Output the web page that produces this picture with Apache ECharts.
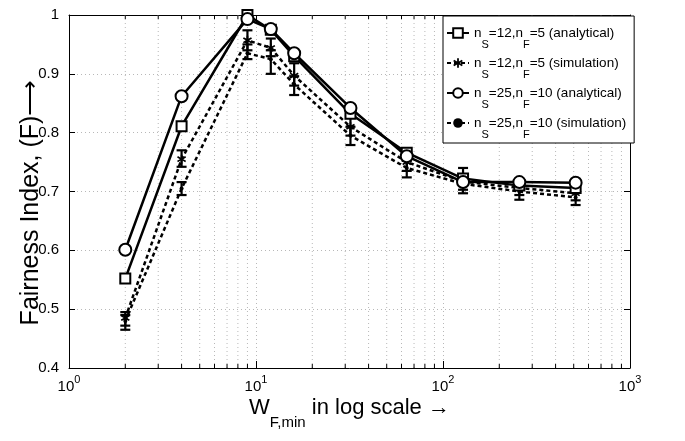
<!DOCTYPE html>
<html><head><meta charset="utf-8">
<script src="https://cdn.jsdelivr.net/npm/echarts@6/dist/echarts.min.js"></script>
<style>html,body{margin:0;padding:0;background:#fff}#c{width:685px;height:441px}</style>
</head><body><div id="c"></div>
<script>
const xVals = [2, 4, 9, 12, 16, 32, 64, 128, 256, 512];
const ana12 = [0.552, 0.811, 1.0, 0.975, 0.93, 0.832, 0.766, 0.722, 0.71, 0.706];
const ana25 = [0.601, 0.862, 0.993, 0.976, 0.935, 0.842, 0.76, 0.716, 0.716, 0.715];
const sim12 = [0.485, 0.755, 0.957, 0.944, 0.897, 0.81, 0.75, 0.717, 0.706, 0.697];
const sim12Lo = [0.472, 0.742, 0.94, 0.93, 0.88, 0.795, 0.735, 0.703, 0.694, 0.685];
const sim12Hi = [0.495, 0.77, 0.974, 0.96, 0.918, 0.825, 0.762, 0.74, 0.716, 0.708];
const sim25 = [0.48, 0.705, 0.935, 0.925, 0.882, 0.795, 0.74, 0.713, 0.70, 0.69];
const sim25Lo = [0.465, 0.694, 0.925, 0.90, 0.864, 0.779, 0.724, 0.697, 0.686, 0.677];
const sim25Hi = [0.49, 0.716, 0.95, 0.94, 0.896, 0.81, 0.752, 0.727, 0.71, 0.70];
const minorX = [2,3,4,5,6,7,8,9,20,30,40,50,60,70,80,90,200,300,400,500,600,700,800,900];
const yMin = 0.4, yMax = 1.0, yStep = 0.1;
const xMin = 1, xMax = 1000;
const legendNames = ['a12', 's12', 'a25', 's25'];
const legendLabels = {
  a12: ['12', '5', 'analytical'],
  s12: ['12', '5', 'simulation'],
  a25: ['25', '10', 'analytical'],
  s25: ['25', '10', 'simulation']
};

const FONT = "'Liberation Sans', Arial, sans-serif";
const asterisk = 'path://M-0.9,-5L0.9,-5L0.9,-1.6L3.9,-3.4L4.8,-1.8L1.8,0L4.8,1.8L3.9,3.4L0.9,1.6L0.9,5L-0.9,5L-0.9,1.6L-3.9,3.4L-4.8,1.8L-1.8,0L-4.8,-1.8L-3.9,-3.4L-0.9,-1.6Z';

function pairs(ys) { return xVals.map((x, i) => [x, ys[i]]); }
function bars(lo, hi) { return xVals.map((x, i) => [x, lo[i], hi[i]]); }

function errRender(params, api) {
  const x = api.value(0);
  const p1 = api.coord([x, api.value(1)]);
  const p2 = api.coord([x, api.value(2)]);
  const w = 5;
  const st = { stroke: '#000', lineWidth: 2.2 };
  return { type: 'group', children: [
    { type: 'line', shape: { x1: p1[0], y1: p1[1], x2: p2[0], y2: p2[1] }, style: st },
    { type: 'line', shape: { x1: p1[0]-w, y1: p1[1], x2: p1[0]+w, y2: p1[1] }, style: st },
    { type: 'line', shape: { x1: p2[0]-w, y1: p2[1], x2: p2[0]+w, y2: p2[1] }, style: st }
  ]};
}
function minorRender(params, api) {
  const v = api.value(0);
  const b = api.coord([v, yMin]);
  const t = api.coord([v, yMax]);
  return { type: 'group', children: [
    { type: 'line', shape: { x1: b[0], y1: b[1], x2: t[0], y2: t[1] },
      style: { stroke: '#b8b8b8', lineWidth: 1, lineDash: [1, 3] } },
    { type: 'line', shape: { x1: b[0], y1: b[1], x2: b[0], y2: b[1]-4 }, style: { stroke: '#000', lineWidth: 1 } },
    { type: 'line', shape: { x1: t[0], y1: t[1], x2: t[0], y2: t[1]+4 }, style: { stroke: '#000', lineWidth: 1 } }
  ]};
}

const chart = echarts.init(document.getElementById('c'));
const axisLine = { show: true, lineStyle: { color: '#000', width: 1 } };
const option = {
  backgroundColor: '#fff',
  animation: false,
  textStyle: { fontFamily: FONT },
  grid: { left: 69, right: 55, top: 15, bottom: 73, containLabel: false },
  legend: {
    data: legendNames,
    orient: 'vertical',
    left: 443, top: 16,
    padding: [10, 8, 3, 3],
    itemGap: 6,
    itemWidth: 22, itemHeight: 12,
    backgroundColor: '#fff',
    borderColor: '#000', borderWidth: 1,
    formatter: n => {
      const l = legendLabels[n];
      return '{m|n}{s|S}{m|=' + l[0] + ',n}{s|F}{m|=' + l[1] + ' (' + l[2] + ')}';
    },
    textStyle: {
      fontFamily: FONT,
      rich: {
        m: { fontSize: 13.5, lineHeight: 34, verticalAlign: 'middle', color: '#000', fontFamily: FONT },
        s: { fontSize: 11, lineHeight: 10, verticalAlign: 'bottom', color: '#000', fontFamily: FONT }
      }
    }
  },
  xAxis: [{
    type: 'log', logBase: 10, min: xMin, max: xMax,
    axisLine,
    axisTick: { show: true, inside: true, length: 7, lineStyle: { color: '#000' } },
    splitLine: { show: true, lineStyle: { color: '#b8b8b8', type: [1, 3], width: 1 } },
    axisLabel: {
      margin: 6,
      formatter: v => '{b|10}{p|' + Math.round(Math.log10(v)) + '}',
      rich: {
        b: { fontSize: 15, lineHeight: 26, verticalAlign: 'middle', color: '#000', fontFamily: FONT },
        p: { fontSize: 11, lineHeight: 11, verticalAlign: 'top', color: '#000', fontFamily: FONT }
      }
    },
    name: '{w|W}{sub|F,min}{w| in log scale →}',
    nameLocation: 'middle', nameGap: 18, nameMoveOverlap: false,
    nameTextStyle: {
      rich: {
        w: { fontSize: 22, lineHeight: 44, verticalAlign: 'middle', color: '#000', fontFamily: FONT },
        sub: { fontSize: 15, lineHeight: 12, verticalAlign: 'bottom', color: '#000', fontFamily: FONT }
      }
    }
  }, {
    type: 'log', logBase: 10, min: xMin, max: xMax, position: 'top',
    axisLine, axisLabel: { show: false }, splitLine: { show: false },
    axisTick: { show: true, inside: true, length: 7, lineStyle: { color: '#000' } }
  }],
  yAxis: [{
    type: 'value', min: yMin, max: yMax, interval: yStep,
    axisLine,
    axisTick: { show: true, inside: true, length: 6, lineStyle: { color: '#000' } },
    splitLine: { show: true, lineStyle: { color: '#b8b8b8', type: [1, 3], width: 1 } },
    axisLabel: { margin: 10, fontSize: 15, color: '#000', fontFamily: FONT },
    name: 'Fairness Index, (F)⟶',
    nameLocation: 'middle', nameGap: 25, nameRotate: 90, nameMoveOverlap: false,
    nameTextStyle: { fontSize: 25, color: '#000', fontFamily: FONT, padding: [0, 22, 0, 0] }
  }, {
    type: 'value', min: yMin, max: yMax, interval: yStep, position: 'right',
    axisLine, axisLabel: { show: false }, splitLine: { show: false },
    axisTick: { show: true, inside: true, length: 6, lineStyle: { color: '#000' } }
  }],
  series: [
    { type: 'custom', name: 'minor', silent: true, renderItem: minorRender, data: minorX.map(v => [v, yMin]), z: 1, clip: false },
    { type: 'custom', name: 'e25', silent: true, renderItem: errRender, data: bars(sim25Lo, sim25Hi), z: 3, clip: false },
    { type: 'custom', name: 'e12', silent: true, renderItem: errRender, data: bars(sim12Lo, sim12Hi), z: 3, clip: false },
    { type: 'line', name: 's25', data: pairs(sim25), clip: false, z: 4,
      lineStyle: { color: '#000', width: 2.5, type: [4, 3] },
      symbol: 'circle', symbolSize: 4, itemStyle: { color: '#000', borderColor: '#000', borderWidth: 0 } },
    { type: 'line', name: 's12', data: pairs(sim12), clip: false, z: 4,
      lineStyle: { color: '#000', width: 2.5, type: [4, 3] },
      symbol: asterisk, symbolSize: 9, itemStyle: { color: '#000', borderWidth: 0 } },
    { type: 'line', name: 'a12', data: pairs(ana12), clip: false, z: 5,
      lineStyle: { color: '#000', width: 2.5 },
      symbol: 'rect', symbolSize: 10, itemStyle: { color: '#fff', borderColor: '#000', borderWidth: 2 } },
    { type: 'line', name: 'a25', data: pairs(ana25), clip: false, z: 5,
      lineStyle: { color: '#000', width: 2.5 },
      symbol: 'circle', symbolSize: 12, itemStyle: { color: '#fff', borderColor: '#000', borderWidth: 2 } }
  ]
};
chart.setOption(option);
</script>
</body></html>
